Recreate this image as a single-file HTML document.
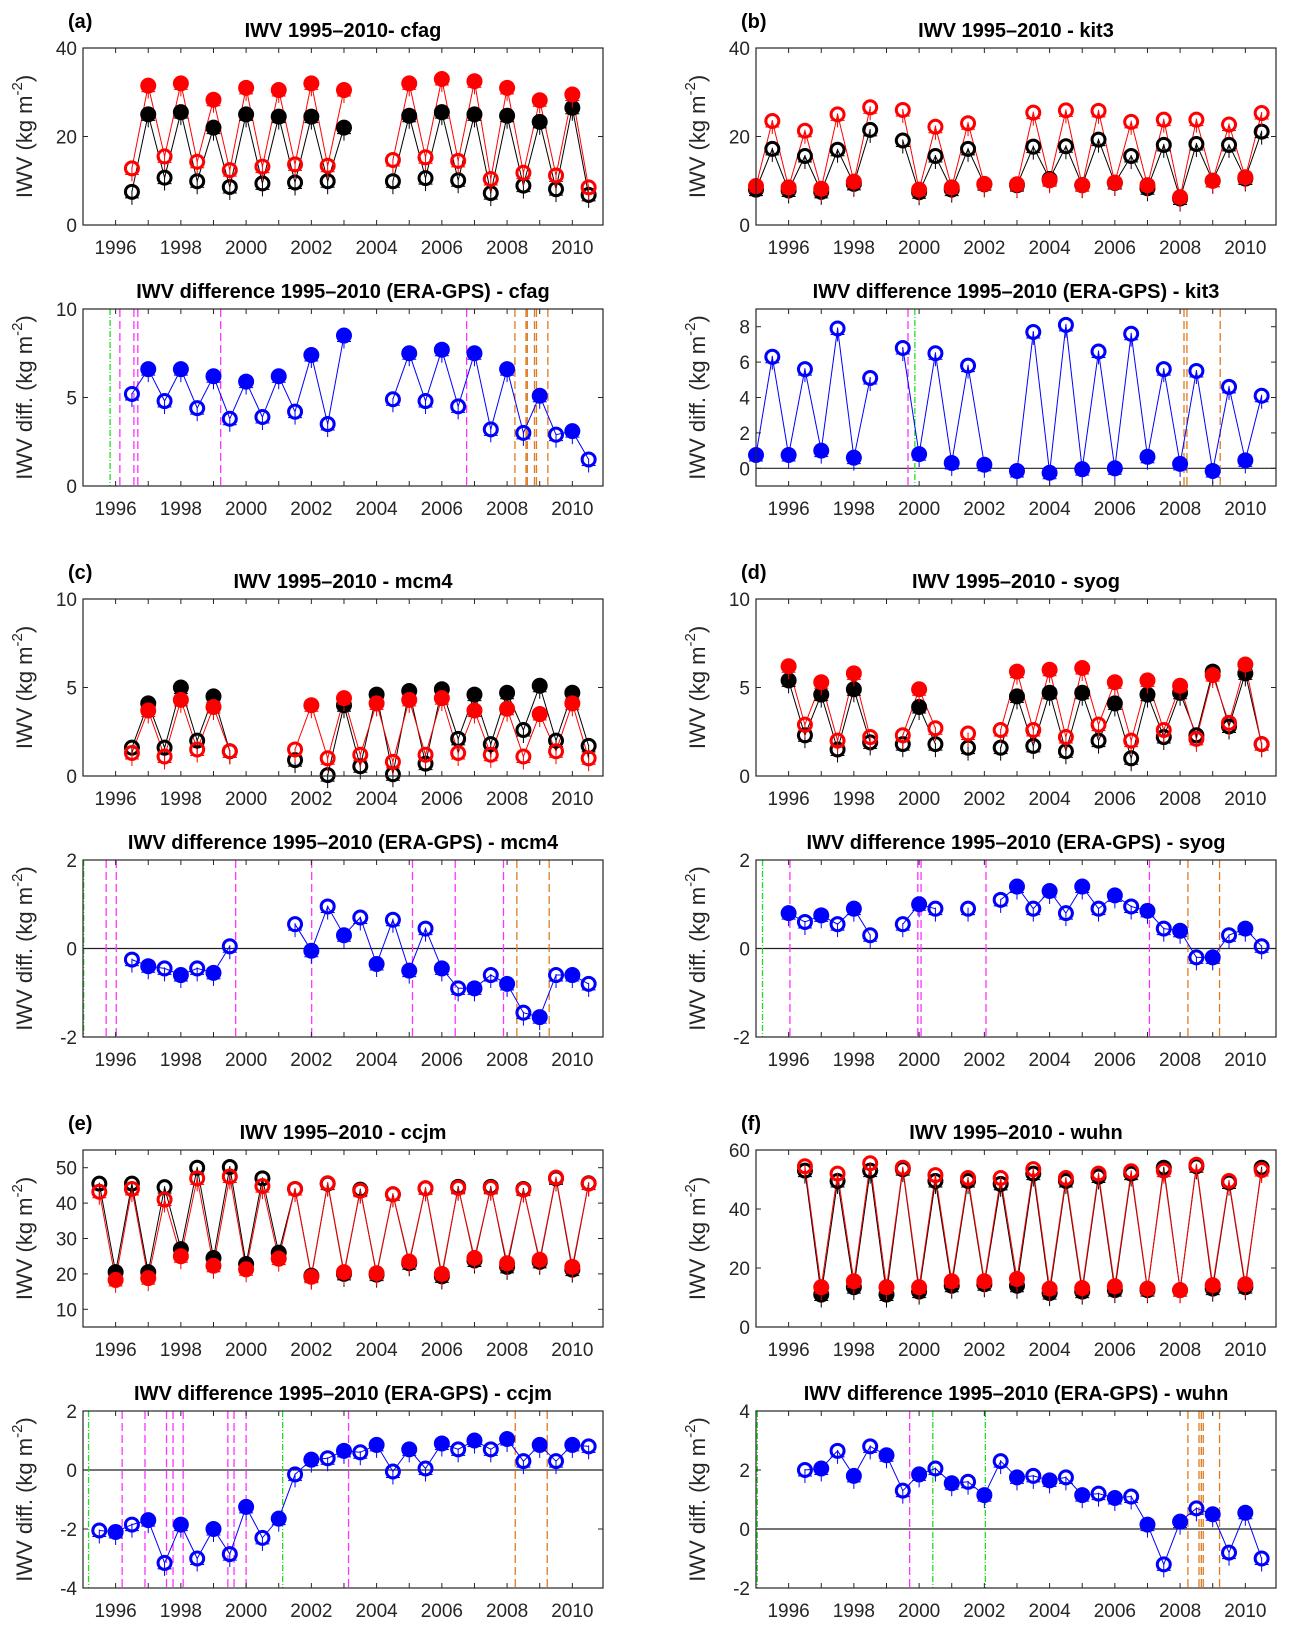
<!DOCTYPE html>
<html><head><meta charset="utf-8">
<style>
html,body{margin:0;padding:0;background:#fff;}
svg{display:block;font-family:"Liberation Sans",Arial,sans-serif;}
</style></head>
<body>
<svg id="fig" width="1292" height="1631" viewBox="0 0 1292 1631" xmlns="http://www.w3.org/2000/svg"></svg>
<script>
// ---- data ----
const cfagT = [1996.5,1997,1997.5,1998,1998.5,1999,1999.5,2000,2000.5,2001,2001.5,2002,2002.5,2003,2004.5,2005,2005.5,2006,2006.5,2007,2007.5,2008,2008.5,2009,2009.5,2010,2010.5];
const cfagGps = [7.5,25,10.7,25.5,9.9,22,8.6,25,9.4,24.5,9.6,24.5,9.9,22,9.9,24.7,10.6,25.5,10.1,25,7.2,24.7,8.9,23.3,8.1,26.5,6.8];
const cfagEra = [12.8,31.5,15.5,32,14.3,28.3,12.4,31,13.2,30.5,13.7,32,13.4,30.5,14.7,32,15.3,33,14.5,32.5,10.4,31,11.8,28.2,11.2,29.5,8.5];
const cfagDiff = [5.2,6.6,4.8,6.6,4.4,6.2,3.8,5.9,3.9,6.2,4.2,7.4,3.5,8.5,4.9,7.5,4.8,7.7,4.5,7.5,3.2,6.6,3.0,5.1,2.9,3.1,1.5];
const cfagGreen = [1995.83];
const cfagMagenta = [1996.13,1996.56,1996.68,1999.22,2006.76];
const cfagOrange = [2008.24,2008.58,2008.62,2008.84,2008.9,2009.25];

const kit3T = [1995,1995.5,1996,1996.5,1997,1997.5,1998,1998.5,1999.5,2000,2000.5,2001,2001.5,2002,2003,2003.5,2004,2004.5,2005,2005.5,2006,2006.5,2007,2007.5,2008,2008.5,2009,2009.5,2010,2010.5];
const kit3Gps = [8,17.2,7.8,15.6,7.5,17,9.3,21.5,19.1,7.4,15.6,8,17.2,9.2,9,17.7,10.4,17.8,9,19.3,9.5,15.6,8.3,18.1,6,18.3,10,18.1,10.5,21.1];
const kit3Era = [8.8,23.5,8.5,21.3,8.2,25,9.8,26.6,26,8,22.2,8.5,23,9.3,9.2,25.4,10.1,25.9,9,25.8,9.6,23.3,9,23.8,6.3,23.8,10,22.7,10.8,25.3];
const kit3Diff = [0.75,6.3,0.75,5.6,1.0,7.9,0.6,5.1,6.8,0.8,6.5,0.3,5.8,0.2,-0.15,7.7,-0.25,8.1,-0.05,6.6,0,7.6,0.65,5.6,0.25,5.5,-0.15,4.6,0.45,4.1];
const kit3Green = [1999.87];
const kit3Magenta = [1999.66];
const kit3Orange = [2008.12,2008.21,2009.23];

const mcm4T = [1996.5,1997,1997.5,1998,1998.5,1999,1999.5,2001.5,2002,2002.5,2003,2003.5,2004,2004.5,2005,2005.5,2006,2006.5,2007,2007.5,2008,2008.5,2009,2009.5,2010,2010.5];
const mcm4Gps = [1.6,4.1,1.6,5.0,2.0,4.5,1.4,0.9,null,0.05,4.0,0.55,4.6,0.1,4.8,0.7,4.9,2.1,4.6,1.8,4.7,2.6,5.1,2.0,4.7,1.7];
const mcm4Era = [1.3,3.7,1.1,4.3,1.5,3.9,1.4,1.5,4.0,1.0,4.4,1.2,4.1,0.8,4.3,1.2,4.4,1.3,3.7,1.2,3.8,1.1,3.5,1.4,4.1,1.0];
const mcm4Diff = [-0.25,-0.4,-0.45,-0.6,-0.45,-0.55,0.05,0.55,-0.05,0.95,0.3,0.7,-0.35,0.65,-0.5,0.45,-0.45,-0.9,-0.9,-0.6,-0.8,-1.45,-1.55,-0.6,-0.6,-0.8];
const mcm4Green = [1995.02];
const mcm4Magenta = [1995.71,1996.02,1999.68,2002.01,2005.1,2006.41,2007.89];
const mcm4Orange = [2008.3,2009.29];

const syogT = [1996,1996.5,1997,1997.5,1998,1998.5,1999.5,2000,2000.5,2001.5,2002.5,2003,2003.5,2004,2004.5,2005,2005.5,2006,2006.5,2007,2007.5,2008,2008.5,2009,2009.5,2010,2010.5];
const syogGps = [5.4,2.3,4.6,1.5,4.9,1.9,1.8,3.9,1.8,1.6,1.6,4.5,1.7,4.7,1.4,4.7,2.0,4.1,1.0,4.6,2.2,4.7,2.3,5.9,2.8,5.8,1.8];
const syogEra = [6.2,2.9,5.3,2.0,5.8,2.2,2.3,4.9,2.7,2.4,2.6,5.9,2.6,6.0,2.2,6.1,2.9,5.3,2.0,5.4,2.6,5.1,2.1,5.7,3.0,6.3,1.8];
const syogDiff = [0.8,0.6,0.75,0.55,0.9,0.3,0.55,1.0,0.9,0.9,1.1,1.4,0.9,1.3,0.8,1.4,0.9,1.2,0.95,0.85,0.45,0.4,-0.2,-0.2,0.3,0.45,0.05];
const syogGreen = [1995.2];
const syogMagenta = [1996.04,1999.96,2000.06,2002.05,2007.06];
const syogOrange = [2008.24,2009.21];

const ccjmT = [1995.5,1996,1996.5,1997,1997.5,1998,1998.5,1999,1999.5,2000,2000.5,2001,2001.5,2002,2002.5,2003,2003.5,2004,2004.5,2005,2005.5,2006,2006.5,2007,2007.5,2008,2008.5,2009,2009.5,2010,2010.5];
const ccjmGps = [45.5,20.5,45.5,20.5,44.5,27,50,24.5,50.2,22.8,47,26,44,19.5,45.5,20,43.8,19.8,42.5,23,44.2,19.3,44.6,23.8,44.6,22,44,23.4,47,21.2,45.6];
const ccjmEra = [43.2,18.3,44,18.8,41,25,47,22.3,47.5,21.3,44.8,24.3,44,19.2,45.6,20.5,43.5,20.2,42.5,23.5,44.2,20,44.3,24.5,44.3,23,43.8,24,47.2,22,45.5];
const ccjmDiff = [-2.05,-2.1,-1.85,-1.7,-3.15,-1.85,-3.0,-2.0,-2.85,-1.25,-2.3,-1.65,-0.15,0.35,0.4,0.65,0.6,0.85,-0.05,0.7,0.05,0.9,0.7,1.0,0.7,1.05,0.3,0.85,0.3,0.85,0.8];
const ccjmGreen = [1995.17,2001.12];
const ccjmMagenta = [1996.2,1996.9,1997.56,1997.76,1998.07,1999.44,1999.63,2000.0,2003.14];
const ccjmOrange = [2008.25,2009.23];

const wuhnT = [1996.5,1997,1997.5,1998,1998.5,1999,1999.5,2000,2000.5,2001,2001.5,2002,2002.5,2003,2003.5,2004,2004.5,2005,2005.5,2006,2006.5,2007,2007.5,2008,2008.5,2009,2009.5,2010,2010.5];
const wuhnGps = [53,11,49.5,13.5,53,11,53.5,12,49.5,14,49.5,14.5,48.5,14,52,11.5,49.5,12,51,12.5,52,12.5,54,12.5,54.5,13,49,13.5,54];
const wuhnEra = [54.5,13.5,52,15.5,55.5,13.5,54,13.5,51.5,15.5,50.5,15.5,50.5,16.3,53.5,13,50.5,13.2,52,13.8,52.8,13,53,12.5,55,14.2,49.5,14.5,53.2];
const wuhnDiff = [2.0,2.05,2.65,1.8,2.8,2.5,1.3,1.85,2.05,1.55,1.6,1.15,2.3,1.75,1.8,1.65,1.75,1.15,1.2,1.05,1.1,0.15,-1.2,0.25,0.7,0.5,-0.8,0.55,-1.0];
const wuhnGreen = [1995.04,2000.42,2002.03];
const wuhnMagenta = [1999.71];
const wuhnOrange = [2008.24,2008.58,2008.65,2008.71,2009.21];

const xTickLabels = [1996,1998,2000,2002,2004,2006,2008,2010];

// ---- layout ----
const NS = "http://www.w3.org/2000/svg";
const svg = document.getElementById('fig');
const COLX = [83, 756], PW = 520, PH = 177;
const ROWY = [48, 309, 599, 860, 1150, 1411];
const X0 = 1995, X1 = 2010.94;

function el(tag, attrs, parent) {
  const e = document.createElementNS(NS, tag);
  for (const k in attrs) e.setAttribute(k, attrs[k]);
  (parent || svg).appendChild(e);
  return e;
}

function drawAxes(col, row, ylim, yticks, title, label, ylabel, key) {
  const left = COLX[col], top = ROWY[row];
  const g = el('g', {});
  
  
  const sx = t => left + (t - X0) / (X1 - X0) * PW;
  const sy = v => top + PH - (v - ylim[0]) / (ylim[1] - ylim[0]) * PH;
  el('rect', {x: left, y: top, width: PW, height: PH, fill: '#fff'}, g);
  return {g, sx, sy, left, top, ylim, yticks, title, label, ylabel, key};
}

function finishAxes(ax) {
  const {g, sx, sy, left, top, yticks, title, label, ylabel, key} = ax;
  const fg = el('g', {}, g);
  
  
  for (let y = 1996; y <= 2010; y++) {
    const x = sx(y);
    el('line', {x1: x, x2: x, y1: top + PH, y2: top + PH - 5, stroke: '#262626'}, fg);
    el('line', {x1: x, x2: x, y1: top, y2: top + 5, stroke: '#262626'}, fg);
  }
  xTickLabels.forEach(y => {
    const t = el('text', {x: sx(y), y: top + PH + 29, 'text-anchor': 'middle', 'font-size': 19, fill: '#262626'}, fg);
    t.textContent = y;
    
    
  });
  yticks.forEach(v => {
    const y = sy(v);
    el('line', {x1: left, x2: left + 5, y1: y, y2: y, stroke: '#262626'}, fg);
    el('line', {x1: left + PW, x2: left + PW - 5, y1: y, y2: y, stroke: '#262626'}, fg);
    const t = el('text', {x: left - 6, y: y + 7, 'text-anchor': 'end', 'font-size': 19, fill: '#262626'}, fg);
    t.textContent = v;
    
    
  });
  el('rect', {x: left, y: top, width: PW, height: PH, fill: 'none', stroke: '#262626', 'stroke-width': 1.2}, fg);
  const tt = el('text', {x: left + PW / 2, y: top - 11, 'text-anchor': 'middle', 'font-size': 20, 'font-weight': 'bold', fill: '#000'}, fg);
  tt.textContent = title;
  
  
  if (label) {
    const pl = el('text', {x: left - 15, y: top - 20, 'font-size': 20, 'font-weight': 'bold', fill: '#000'}, fg);
    pl.textContent = label;
    
    
  }
  const cx = left - 51, cy = top + PH / 2;
  const yl = el('text', {x: cx, y: cy, 'text-anchor': 'middle', 'font-size': 22, fill: '#262626', transform: `rotate(-90 ${cx} ${cy})`}, fg);
  
  
  yl.appendChild(document.createTextNode(ylabel + '  (kg m'));
  const sup = el('tspan', {dy: -10, 'font-size': 15}, yl);
  sup.textContent = '-2';
  const cl = el('tspan', {dy: 10}, yl);
  cl.textContent = ')';
}

function seriesLine(ax, T, V, color, name) {
  let d = '', prev = null;
  T.forEach((t, i) => {
    const v = V[i];
    if (v === null) { prev = null; return; }
    const cmd = (prev !== null && t - prev <= 0.6) ? 'L' : 'M';
    d += cmd + ax.sx(t).toFixed(1) + ',' + ax.sy(v).toFixed(1);
    prev = t;
  });
  const p = el('path', {d, fill: 'none', stroke: color, 'stroke-width': 1}, ax.g);
  
  
}

function markers(ax, T, V, color, name) {
  const g = el('g', {}, ax.g);
  
  
  T.forEach((t, i) => {
    const v = V[i];
    if (v === null) return;
    const x = ax.sx(t), y = ax.sy(v);
    if (y < ax.top - 2 || y > ax.top + PH + 2) return;
    let c;
    if (Number.isInteger(t)) c = el('circle', {cx: x, cy: y, r: 8, fill: color}, g);
    else c = el('circle', {cx: x, cy: y, r: 6.5, fill: 'none', stroke: color, 'stroke-width': 3}, g);
    
    
    const cr = el('path', {d: `M${x-7},${y+6}h14M${x},${y-1}v14`, stroke: color, 'stroke-width': 1}, g);
    
    
  });
}

function vlines(ax, arr, color, dash, name) {
  arr.forEach(t => {
    const x = ax.sx(t);
    const l = el('line', {x1: x, x2: x, y1: ax.top, y2: ax.top + PH, stroke: color, 'stroke-width': 1.3, 'stroke-dasharray': dash}, ax.g);
    
    
  });
}

function panel(col, row, st, T, gps, era, diff, green, mag, ora, ylim, yticks, dlim, dticks, label, sep) {
  const a = drawAxes(col, row, ylim, yticks, 'IWV 1995\u20132010' + sep + '- ' + st, label, 'IWV', st + '-iwv');
  seriesLine(a, T, gps, '#000', st + '-gps-line');
  seriesLine(a, T, era, '#f00', st + '-era-line');
  markers(a, T, gps, '#000', st + '-gps-markers');
  markers(a, T, era, '#f00', st + '-era-markers');
  finishAxes(a);
  const b = drawAxes(col, row + 1, dlim, dticks, 'IWV difference 1995\u20132010 (ERA-GPS) - ' + st, null, 'IWV diff.', st + '-diff');
  if (dlim[0] < 0) {
    const z = el('line', {x1: b.left, x2: b.left + PW, y1: b.sy(0), y2: b.sy(0), stroke: '#222', 'stroke-width': 1.2}, b.g);
    
    
  }
  vlines(b, green, '#22dd22', '6,2,1,2', 'green-event-line');
  vlines(b, mag, '#ff33ff', '8,4', 'magenta-event-line');
  vlines(b, ora, '#e07a20', '8,4', 'orange-event-line');
  seriesLine(b, T, diff, '#00f', st + '-diff-line');
  markers(b, T, diff, '#00f', st + '-diff-markers');
  finishAxes(b);
}

panel(0, 0, 'cfag', cfagT, cfagGps, cfagEra, cfagDiff, cfagGreen, cfagMagenta, cfagOrange, [0,40], [0,20,40], [0,10], [0,5,10], '(a)', '');
panel(1, 0, 'kit3', kit3T, kit3Gps, kit3Era, kit3Diff, kit3Green, kit3Magenta, kit3Orange, [0,40], [0,20,40], [-1,9], [0,2,4,6,8], '(b)', ' ');
panel(0, 2, 'mcm4', mcm4T, mcm4Gps, mcm4Era, mcm4Diff, mcm4Green, mcm4Magenta, mcm4Orange, [0,10], [0,5,10], [-2,2], [-2,0,2], '(c)', ' ');
panel(1, 2, 'syog', syogT, syogGps, syogEra, syogDiff, syogGreen, syogMagenta, syogOrange, [0,10], [0,5,10], [-2,2], [-2,0,2], '(d)', ' ');
panel(0, 4, 'ccjm', ccjmT, ccjmGps, ccjmEra, ccjmDiff, ccjmGreen, ccjmMagenta, ccjmOrange, [5,55], [10,20,30,40,50], [-4,2], [-4,-2,0,2], '(e)', ' ');
panel(1, 4, 'wuhn', wuhnT, wuhnGps, wuhnEra, wuhnDiff, wuhnGreen, wuhnMagenta, wuhnOrange, [0,60], [0,20,40,60], [-2,4], [-2,0,2,4], '(f)', ' ');
</script>
</body></html>
